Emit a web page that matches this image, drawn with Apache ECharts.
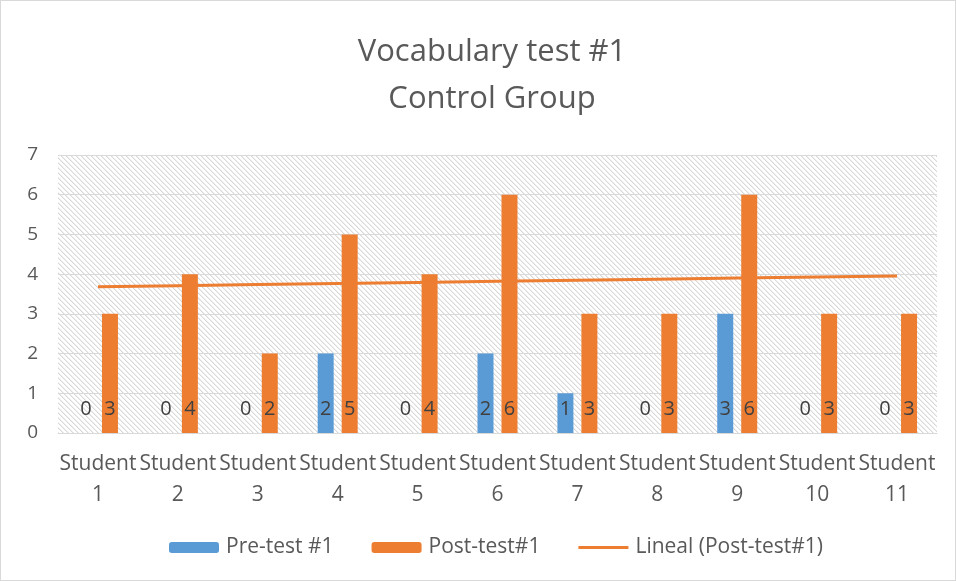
<!DOCTYPE html>
<html>
<head>
<meta charset="utf-8">
<script src="https://cdn.jsdelivr.net/npm/echarts@6/dist/echarts.min.js"></script>
<style>
    html, body {margin: 0; padding: 0; background: #fff;}
    #chart {width: 956px; height: 581px; box-sizing: border-box; border: 1px solid #d9d9d9;}
</style>
</head>
<body>
<div id="chart"></div>
<script>
/*数据*/
var students = ['Student\n1', 'Student\n2', 'Student\n3', 'Student\n4', 'Student\n5', 'Student\n6',
    'Student\n7', 'Student\n8', 'Student\n9', 'Student\n10', 'Student\n11'];
var preTest = [0, 0, 0, 2, 0, 2, 1, 0, 3, 0, 0];
var postTest = [3, 4, 2, 5, 4, 6, 3, 3, 6, 3, 3];

/*线性趋势 (最小二乘)*/
function linearTrend(ys) {
    var n = ys.length, sx = 0, sy = 0, sxy = 0, sxx = 0;
    for (var i = 0; i < n; i++) {
        var x = i + 1;
        sx += x; sy += ys[i]; sxy += x * ys[i]; sxx += x * x;
    }
    var b = (n * sxy - sx * sy) / (n * sxx - sx * sx);
    var a = (sy - b * sx) / n;
    var out = [];
    for (var j = 0; j < n; j++) out.push(+(a + b * (j + 1)).toFixed(4));
    return out;
}
var trend = linearTrend(postTest);

/*斜线底纹*/
function hatch() {
    var c = document.createElement('canvas');
    c.width = 5; c.height = 5;
    var ctx = c.getContext('2d');
    ctx.fillStyle = '#ffffff';
    ctx.fillRect(0, 0, 5, 5);
    for (var y = 0; y < 5; y++) {
        ctx.fillStyle = '#d9d9d9';
        ctx.fillRect(y % 5, y, 1, 1);
        ctx.fillStyle = '#eeeeee';
        ctx.fillRect((y + 1) % 5, y, 1, 1);
    }
    return c;
}

var font = '"Open Sans", "Liberation Sans", sans-serif';
// 图例里趋势线的细线图标
var lineIcon = 'path://M0,0L0.01,0M0,4H50V7H0ZM0,11L0.01,11';
var chart = echarts.init(document.getElementById('chart'));
chart.setOption({
    animation: false,
    textStyle: {fontFamily: font},
    title: {
        text: 'Vocabulary test #1\nControl Group',
        left: 486, top: 23, textAlign: 'center',
        textStyle: {fontFamily: font, fontSize: 31, fontWeight: 'normal', color: '#595959', lineHeight: 47}
    },
    legend: {
        bottom: 17, left: 163,
        itemWidth: 50, itemHeight: 11, itemGap: 38,
        textStyle: {fontFamily: font, fontSize: 21, color: '#595959', padding: [0, 0, 0, 2]},
        data: ['Pre-test #1', 'Post-test#1', {name: 'Lineal (Post-test#1)', icon: lineIcon}]
    },
    grid: {
        left: 57, right: 18, top: 154, bottom: 147,
        show: true, borderWidth: 0,
        backgroundColor: {image: hatch(), repeat: 'repeat'}
    },
    xAxis: {
        type: 'category',
        data: students,
        axisLine: {lineStyle: {color: '#d9d9d9', width: 1}},
        axisTick: {show: false},
        axisLabel: {fontFamily: font, fontSize: 21, color: '#595959', lineHeight: 31, margin: 16, interval: 0}
    },
    yAxis: {
        type: 'value',
        min: 0, max: 7, interval: 1,
        axisLabel: {fontFamily: font, fontSize: 19, color: '#595959', margin: 20},
        splitLine: {lineStyle: {color: '#d9d9d9', width: 1}}
    },
    series: [
        {
            name: 'Pre-test #1', type: 'bar', data: preTest,
            barWidth: 16, barGap: '50%',
            itemStyle: {color: '#5b9bd5'},
            label: {show: true, position: 'insideBottom', distance: 14, fontFamily: font, fontSize: 20, color: '#404040'}
        },
        {
            name: 'Post-test#1', type: 'bar', data: postTest,
            barWidth: 16,
            itemStyle: {color: '#ed7d31'},
            label: {show: true, position: 'insideBottom', distance: 14, fontFamily: font, fontSize: 20, color: '#404040'}
        },
        {
            name: 'Lineal (Post-test#1)', type: 'line', data: trend,
            symbol: 'none', z: 5,
            lineStyle: {color: '#ed7d31', width: 3},
            itemStyle: {color: '#ed7d31'}
        }
    ]
});
</script>
</body>
</html>
